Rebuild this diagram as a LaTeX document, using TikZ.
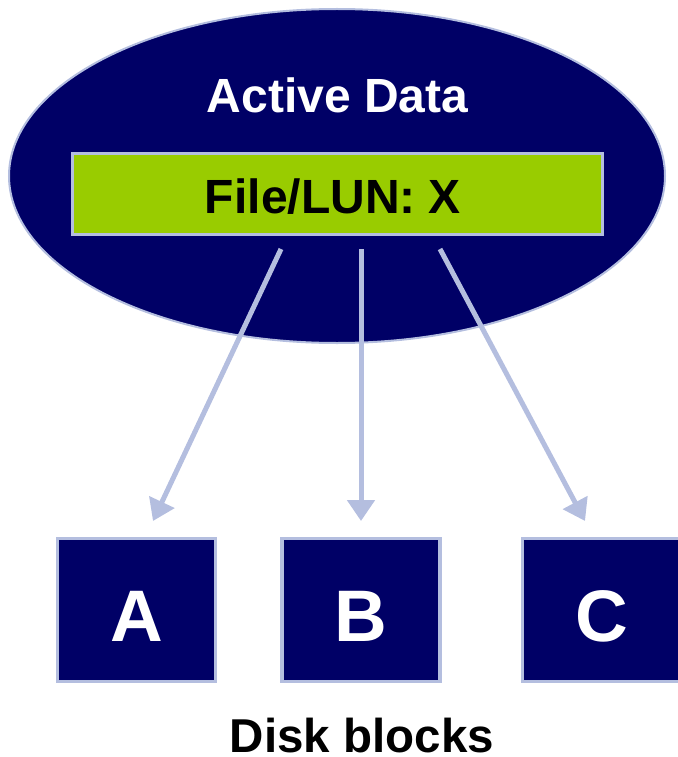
\documentclass[tikz,border=0pt]{standalone}
\usepackage{fontspec}
\setmainfont{Liberation Sans}
\usetikzlibrary{shapes.geometric,arrows.meta,calc}
\definecolor{navy}{HTML}{000066}
\definecolor{edge}{HTML}{B4BEDF}
\definecolor{lime}{HTML}{99CC00}
\tikzset{
  pool/.style={ellipse, fill=navy, draw=edge, line width=2pt, inner sep=0pt},
  filebox/.style={rectangle, fill=lime, draw=edge, line width=3pt, inner sep=0pt},
  block/.style={rectangle, fill=navy, draw=edge, line width=3.5pt, inner sep=0pt,
    minimum width=158pt, minimum height=143pt},
  title/.style={anchor=base, font=\bfseries\fontsize{48}{50}\selectfont, inner sep=0pt},
  letter/.style={anchor=base, text=white, font=\bfseries\fontsize{73}{76}\selectfont, inner sep=0pt},
  ptr/.style={draw=edge, line width=5pt, -{Triangle[length=21pt,width=27pt]}}
}
\begin{document}
\begin{tikzpicture}[x=1pt,y=-1pt]
  \useasboundingbox (0,0) rectangle (677,757);
  % active data pool and the file inside it
  \node[pool, minimum width=656pt, minimum height=334pt] (pool) at (337,176) {};
  \node[title, text=white] (pooltitle) at (337.5,113) {Active Data};
  \node[filebox, minimum width=530pt, minimum height=81pt] (file) at (337,193.5) {};
  \node[title, text=black] (filetitle) at (333,213) {File/LUN: X};
  % disk blocks
  \node[block] (A) at (136.5,610) {};
  \node[block] (B) at (361,610) {};
  \node[block] (C) at (601.5,610) {};
  \node[letter] (la) at ($(A.center)+(0,31)$) {A};
  \node[letter] (lb) at ($(B.center)+(0,31)$) {B};
  \node[letter] (lc) at ($(C.center)+(0,31)$) {C};
  \node[title, text=black, text depth=0pt, font=\bfseries\fontsize{47.5}{50}\selectfont] (caption) at (362,752) {Disk blocks};
  % pointers from the file to its blocks
  \coordinate (s1) at (281,249);
  \coordinate (s2) at (361,249);
  \coordinate (s3) at (440,249);
  \coordinate (t1) at (153,521);
  \coordinate (t2) at (361,521);
  \coordinate (t3) at (585,521);
  \draw[ptr] (s1) -- (t1);
  \draw[ptr] (s2) -- (t2);
  \draw[ptr] (s3) -- (t3);
\end{tikzpicture}
\end{document}
